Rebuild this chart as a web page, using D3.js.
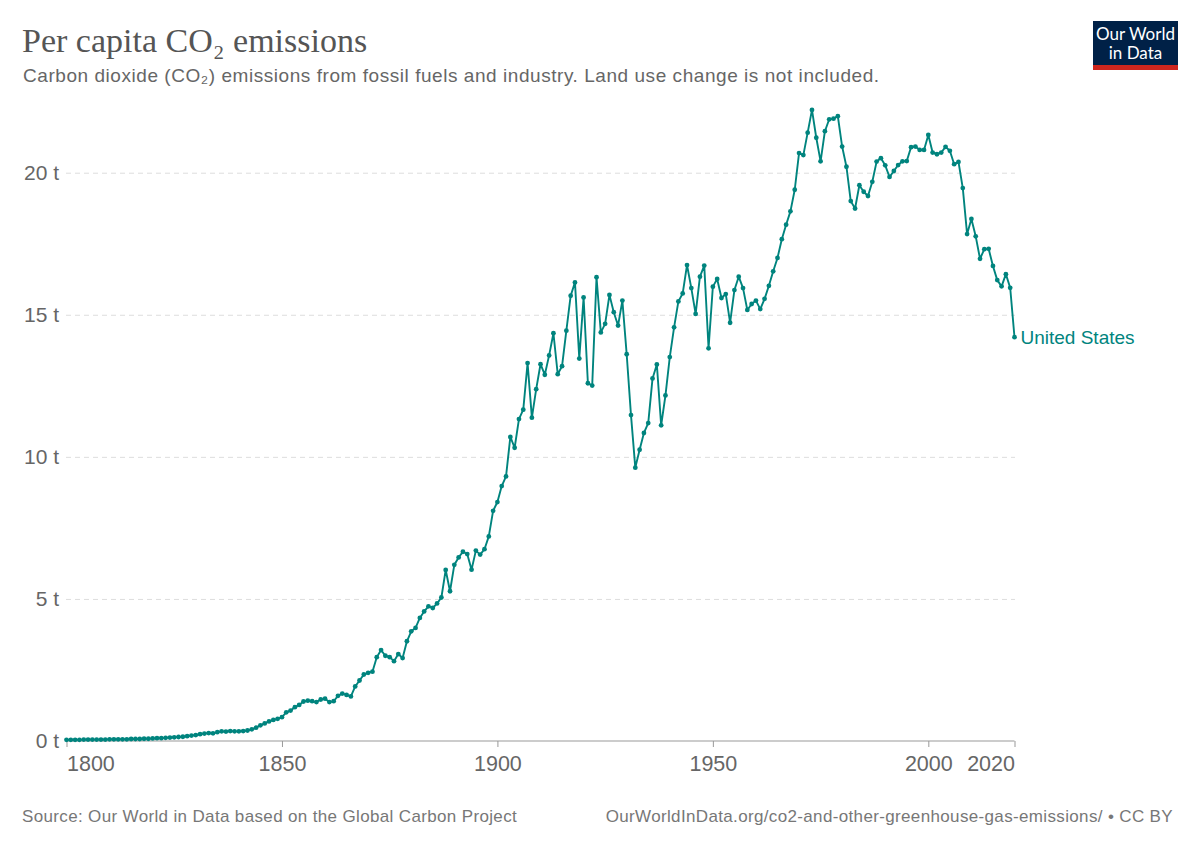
<!DOCTYPE html>
<html>
<head>
<meta charset="utf-8">
<script src="https://cdn.jsdelivr.net/npm/d3@7"></script>
<style>
  html, body { margin: 0; padding: 0; background: #fff; }
  svg { display: block; }
</style>
</head>
<body>
<svg id="chart" width="1200" height="847"></svg>
<script>
// US per capita CO2 emissions, tonnes, one value per year from firstYear on
const firstYear = 1800;
const emissions = [
  0.04, 0.04, 0.04, 0.04, 0.05, 0.05, 0.05, 0.05, 0.05, 0.05,
  0.06, 0.06, 0.06, 0.06, 0.06, 0.07, 0.07, 0.07, 0.08, 0.08,
  0.09, 0.10, 0.10, 0.11, 0.12, 0.13, 0.14, 0.15, 0.17, 0.19,
  0.21, 0.24, 0.26, 0.28, 0.27, 0.31, 0.34, 0.33, 0.35, 0.34,
  0.34, 0.35, 0.37, 0.41, 0.47, 0.55, 0.62, 0.69, 0.74, 0.78,
  0.84, 1.01, 1.07, 1.19, 1.27, 1.39, 1.42, 1.40, 1.37, 1.46,
  1.49, 1.37, 1.40, 1.59, 1.67, 1.62, 1.57, 1.92, 2.13, 2.34,
  2.40, 2.44, 2.95, 3.20, 3.00, 2.95, 2.81, 3.06, 2.92, 3.51,
  3.86, 3.98, 4.33, 4.56, 4.74, 4.68, 4.84, 5.05, 6.02, 5.27,
  6.20, 6.46, 6.66, 6.58, 6.03, 6.70, 6.56, 6.75, 7.20, 8.10,
  8.41, 8.97, 9.31, 10.70, 10.32, 11.33, 11.66, 13.30, 11.38, 12.38,
  13.26, 12.89, 13.57, 14.35, 12.91, 13.19, 14.44, 15.67, 16.14, 13.46,
  15.61, 12.59, 12.51, 16.32, 14.38, 14.68, 15.70, 15.09, 14.62, 15.50,
  13.61, 11.47, 9.62, 10.25, 10.84, 11.19, 12.76, 13.25, 11.11, 12.16,
  13.51, 14.56, 15.47, 15.75, 16.75, 15.94, 15.03, 16.34, 16.73, 13.82,
  15.99, 16.26, 15.59, 15.73, 14.72, 15.87, 16.34, 15.94, 15.17, 15.38,
  15.50, 15.20, 15.56, 16.02, 16.53, 17.00, 17.66, 18.17, 18.64, 19.40,
  20.69, 20.62, 21.41, 22.21, 21.23, 20.40, 21.46, 21.88, 21.90, 21.99,
  20.92, 20.21, 19.00, 18.74, 19.56, 19.33, 19.18, 19.68, 20.39, 20.51,
  20.26, 19.85, 20.06, 20.27, 20.40, 20.41, 20.90, 20.92, 20.80, 20.80,
  21.33, 20.71, 20.65, 20.71, 20.91, 20.77, 20.30, 20.38, 19.46, 17.84,
  18.37, 17.76, 16.97, 17.31, 17.32, 16.72, 16.22, 16.00, 16.43, 15.95,
  14.21
];
const seriesName = 'United States';
const xTicks = [1800, 1850, 1900, 1950, 2000, 2020];
const yTicks = [0, 5, 10, 15, 20];

const title = 'Per capita CO₂ emissions';
const subtitle = 'Carbon dioxide (CO₂) emissions from fossil fuels and industry. Land use change is not included.';
const sourceNote = 'Source: Our World in Data based on the Global Carbon Project';
const urlNote = 'OurWorldInData.org/co2-and-other-greenhouse-gas-emissions/ • CC BY';

const teal = '#00847e';
const sans = '"Liberation Sans", Arial, sans-serif';

const svg = d3.select('#chart');
const data = emissions.map((v, i) => ({ year: firstYear + i, value: v }));

const x = d3.scaleLinear().domain([1800, 2020]).range([66.5, 1014.5]);
const y = d3.scaleLinear().domain([0, 20]).range([741, 172.7]);

// header
svg.append('text')
  .attr('x', 22).attr('y', 52)
  .attr('fill', '#555')
  .style('font-family', '"Liberation Serif", "Times New Roman", serif')
  .style('font-size', '34px')
  .text(title);

svg.append('text')
  .attr('x', 23).attr('y', 81.5)
  .attr('fill', '#666')
  .style('font-family', sans)
  .style('font-size', '19px')
  .style('letter-spacing', '0.55px')
  .text(subtitle);

// logo
const logo = svg.append('g');
logo.append('rect').attr('x', 1093).attr('y', 21).attr('width', 85).attr('height', 49).attr('fill', '#002147');
logo.append('rect').attr('x', 1093).attr('y', 65).attr('width', 85).attr('height', 5).attr('fill', '#ce261e');
logo.selectAll('text.logo')
  .data(['Our World', 'in Data'])
  .join('text')
  .attr('class', 'logo')
  .attr('x', 1135.5)
  .attr('y', (d, i) => 40 + i * 19)
  .attr('text-anchor', 'middle')
  .attr('fill', '#fff')
  .style('font-family', 'Lato, sans-serif')
  .style('font-size', '17px')
  .text(d => d);

// y grid + labels
const yAxis = svg.append('g')
  .attr('transform', 'translate(66,0)')
  .call(d3.axisLeft(y).tickValues(yTicks).tickSize(-949).tickPadding(7).tickFormat(d => d + ' t'));
yAxis.select('.domain').remove();
yAxis.selectAll('.tick line')
  .attr('stroke', '#ddd')
  .attr('stroke-dasharray', '5,4')
  .filter(d => d === 0).remove();
yAxis.selectAll('.tick text')
  .attr('fill', '#666')
  .style('font-family', sans)
  .style('font-size', '21px');

// x axis
const xAxis = svg.append('g')
  .attr('transform', 'translate(0,741)')
  .call(d3.axisBottom(x).tickValues(xTicks).tickSize(6).tickPadding(9).tickFormat(d3.format('d')));
xAxis.select('.domain').attr('stroke', '#999').attr('d', `M${x(1800)},0H${x(2020)}`);
xAxis.selectAll('.tick line').attr('stroke', '#999');
xAxis.selectAll('.tick text')
  .attr('fill', '#666')
  .style('font-family', sans)
  .style('font-size', '21.5px')
  .attr('text-anchor', d => d === 1800 ? 'start' : d === 2020 ? 'end' : 'middle');

// line + dots
const line = d3.line().x(d => x(d.year)).y(d => y(d.value));
svg.append('path')
  .datum(data)
  .attr('d', line)
  .attr('fill', 'none')
  .attr('stroke', teal)
  .attr('stroke-width', 1.9)
  .attr('stroke-linejoin', 'round');

svg.append('g')
  .selectAll('circle')
  .data(data)
  .join('circle')
  .attr('cx', d => x(d.year))
  .attr('cy', d => y(d.value))
  .attr('r', 2.4)
  .attr('fill', teal);

const last = data[data.length - 1];
svg.append('text')
  .attr('x', x(last.year) + 6)
  .attr('y', y(last.value))
  .attr('dy', '0.35em')
  .attr('fill', teal)
  .style('font-family', sans)
  .style('font-size', '19px')
  .text(seriesName);

// footer
svg.append('text')
  .attr('x', 22).attr('y', 822)
  .attr('fill', '#777')
  .style('font-family', sans)
  .style('font-size', '17px')
  .style('letter-spacing', '0.35px')
  .text(sourceNote);

svg.append('text')
  .attr('x', 1173).attr('y', 822)
  .attr('text-anchor', 'end')
  .attr('fill', '#777')
  .style('font-family', sans)
  .style('font-size', '17px')
  .style('letter-spacing', '0.35px')
  .text(urlNote);
</script>
</body>
</html>
